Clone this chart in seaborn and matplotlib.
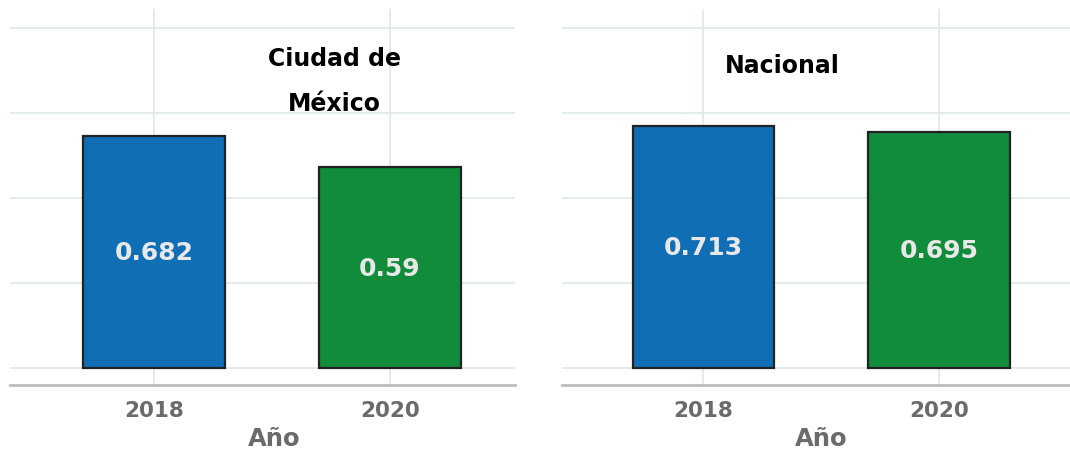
import matplotlib
matplotlib.use("Agg")
import matplotlib.pyplot as plt
import pandas as pd
import seaborn as sns

# Data
years = ["2018", "2020"]
cdmx = [0.682, 0.59]
nacional = [0.713, 0.695]
bar_colors = ["#106EB5", "#118C3A"]

sns.set_theme(style="white")
plt.rcParams['font.family'] = ['DejaVu Sans']

fig = plt.figure(figsize=(10.7, 4.52), dpi=100, facecolor='white')
ax_left = fig.add_axes([10 / 1070, 1 - 386 / 452, 505 / 1070, 376 / 452])
ax_right = fig.add_axes([562 / 1070, 1 - 386 / 452, 508 / 1070, 376 / 452])

panels = [
    (ax_left, cdmx, "Ciudad de\nMéxico", (0.765, 0.845), (-0.61, 1.53), 0.523),
    (ax_right, nacional, "Nacional", (0.333, 0.89), (-0.60, 1.555), 0.51),
]

for ax, vals, title, title_pos, xlim, xlab_x in panels:
    df = pd.DataFrame({"year": years, "value": vals})
    sns.barplot(ax=ax, data=df, x="year", y="value", hue="year",
                palette=bar_colors, saturation=1, width=0.6, edgecolor="#222222",
                linewidth=1.6, legend=False, zorder=3)
    ax.set_ylim(-0.05, 1.056)
    ax.set_xlim(*xlim)
    ax.set_yticks([0, 0.25, 0.5, 0.75, 1.0])
    ax.set_yticklabels([])
    ax.grid(True, color="#e0ebe6", linewidth=1.3, zorder=0)
    ax.set_axisbelow(True)
    for s in ["left", "right", "top"]:
        ax.spines[s].set_visible(False)
    ax.spines["bottom"].set_color("#bcbcbc")
    ax.spines["bottom"].set_linewidth(2)
    ax.tick_params(axis="both", length=0)
    ax.tick_params(axis="x", pad=11, labelsize=15.5, labelcolor="#6b6b6b")
    for lab in ax.get_xticklabels():
        lab.set_fontweight("bold")
    ax.set_ylabel("")
    ax.set_xlabel("Año", fontsize=17.5, fontweight="bold", color="#6b6b6b")
    ax.xaxis.set_label_coords(xlab_x, -0.11)
    for i, v in enumerate(vals):
        ax.text(i, v / 2, f"{v:g}", ha="center", va="center", fontsize=18,
                fontweight="bold", color="#e8e8e8", zorder=4)
    ax.text(title_pos[0], title_pos[1], title, ha="center", va="center",
            fontsize=17, fontweight="bold", color="black", linespacing=2.1)

fig.savefig("out.png", dpi=100, facecolor="white")
